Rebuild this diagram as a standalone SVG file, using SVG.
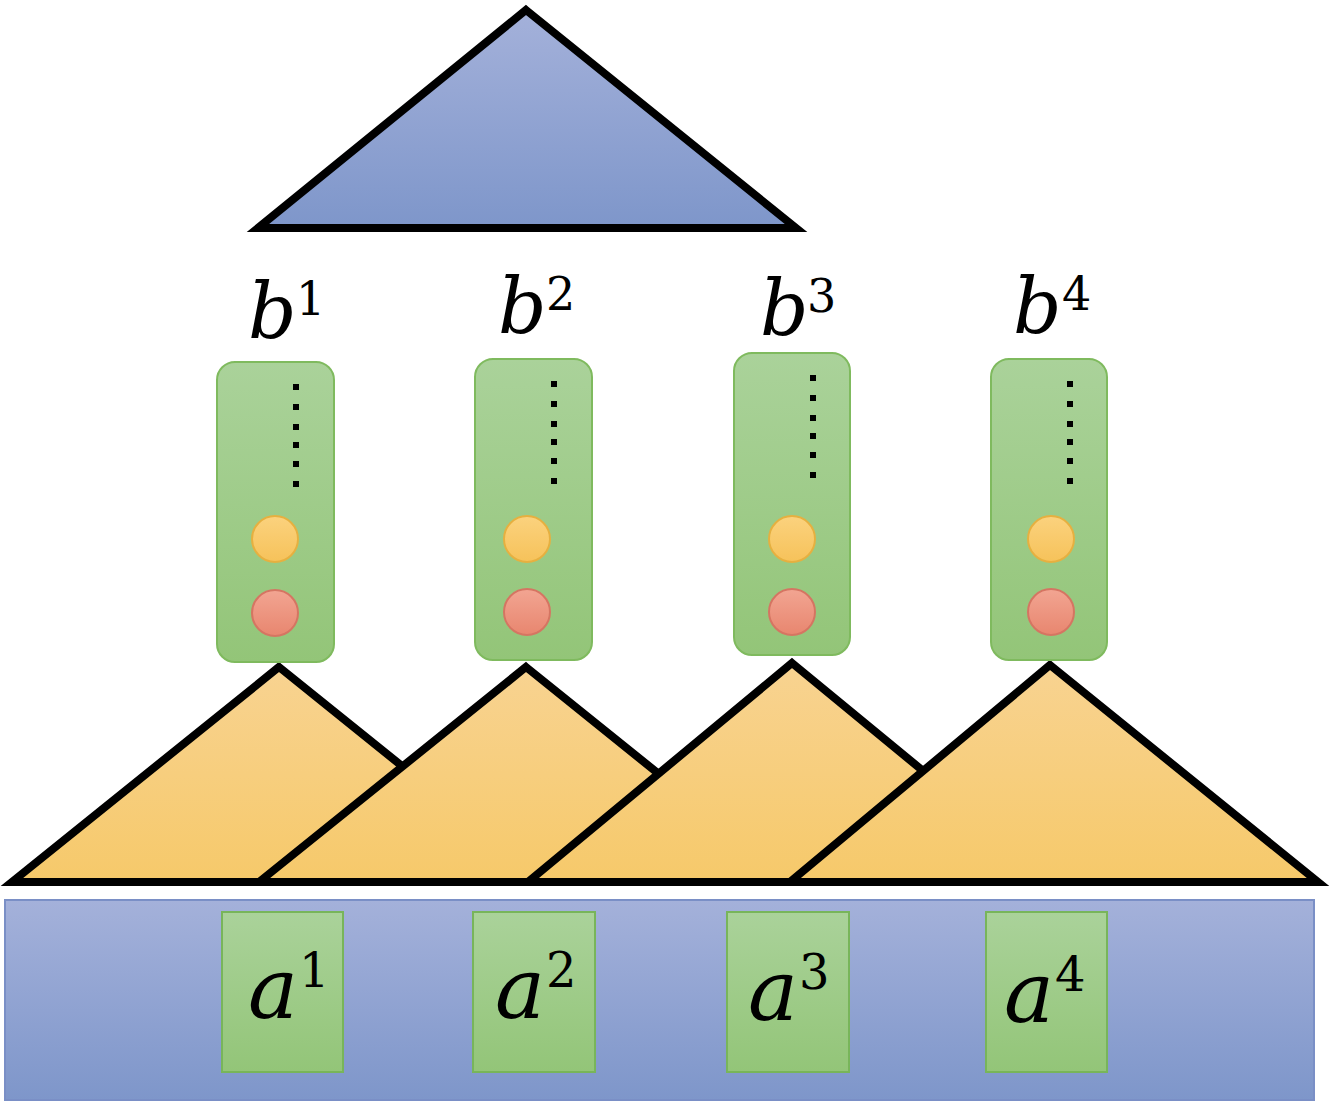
<svg xmlns="http://www.w3.org/2000/svg" width="1331" height="1103" viewBox="0 0 1331 1103">
<defs>
<linearGradient id="blue" x1="0" y1="0" x2="0" y2="1"><stop offset="0" stop-color="#a4b1da"/><stop offset="1" stop-color="#7e96ca"/></linearGradient>
<linearGradient id="green" x1="0" y1="0" x2="0" y2="1"><stop offset="0" stop-color="#aad29a"/><stop offset="1" stop-color="#93c578"/></linearGradient>
<linearGradient id="yellow" x1="0" y1="0" x2="0" y2="1"><stop offset="0" stop-color="#f8d391"/><stop offset="1" stop-color="#f6c96a"/></linearGradient>
<linearGradient id="ydot" x1="0" y1="0" x2="0" y2="1"><stop offset="0" stop-color="#fbd27e"/><stop offset="1" stop-color="#f6c25a"/></linearGradient>
<linearGradient id="rdot" x1="0" y1="0" x2="0" y2="1"><stop offset="0" stop-color="#f2a592"/><stop offset="1" stop-color="#e8866f"/></linearGradient>
</defs>
<style>
.tri{stroke:#000;stroke-width:8;stroke-linejoin:miter}
.gbox{fill:url(#green);stroke:#7fba5e;stroke-width:2}
.abox{fill:url(#green);stroke:#78b55a;stroke-width:2}
.dot{fill:#000}
.y{fill:url(#ydot);stroke:#e6b040;stroke-width:2}
.r{fill:url(#rdot);stroke:#d57562;stroke-width:2}
.var{font-family:"DejaVu Serif","Liberation Serif",serif;font-style:italic;fill:#000}
.sup{font-family:"DejaVu Serif","Liberation Serif",serif;fill:#000}
</style>
<rect width="1331" height="1103" fill="#fff"/>
<g id="top-triangle"><polygon class="tri" points="526,10 796,228 258,228" fill="url(#blue)"/></g>
<g id="input-bar"><rect x="5" y="900" width="1309" height="200" fill="url(#blue)" stroke="#7a8fc6" stroke-width="2"/></g>
<g id="yellow-triangles">
<polygon id="t1" class="tri" points="279,667 546,882 12,882" fill="url(#yellow)"/>
<polygon id="t2" class="tri" points="526,667 793,882 259,882" fill="url(#yellow)"/>
<polygon id="t3" class="tri" points="792,663 1058,882 528,882" fill="url(#yellow)"/>
<polygon id="t4" class="tri" points="1050,665 1318,882 790,882" fill="url(#yellow)"/>
</g>
<g id="b1">
<rect class="gbox" x="217" y="362" width="117" height="300" rx="18"/>
<g class="dot"><rect x="293" y="384" width="6" height="6"/><rect x="293" y="404" width="6" height="6"/><rect x="293" y="424" width="6" height="6"/><rect x="293" y="442" width="6" height="6"/><rect x="293" y="461" width="6" height="6"/><rect x="293" y="481" width="6" height="6"/></g>
<circle class="y" cx="275" cy="539" r="23"/><circle class="r" cx="275" cy="613" r="23"/>
<text class="var" x="248" y="338" font-size="76">b</text><text class="sup" x="296" y="315" font-size="46">1</text>
</g>
<g id="b2">
<rect class="gbox" x="475" y="359" width="117" height="301" rx="18"/>
<g class="dot"><rect x="551" y="381" width="6" height="6"/><rect x="551" y="401" width="6" height="6"/><rect x="551" y="421" width="6" height="6"/><rect x="551" y="439" width="6" height="6"/><rect x="551" y="458" width="6" height="6"/><rect x="551" y="478" width="6" height="6"/></g>
<circle class="y" cx="527" cy="539" r="23"/><circle class="r" cx="527" cy="612" r="23"/>
<text class="var" x="498" y="333" font-size="76">b</text><text class="sup" x="546" y="310" font-size="46">2</text>
</g>
<g id="b3">
<rect class="gbox" x="734" y="353" width="116" height="302" rx="18"/>
<g class="dot"><rect x="810" y="375" width="6" height="6"/><rect x="810" y="395" width="6" height="6"/><rect x="810" y="415" width="6" height="6"/><rect x="810" y="433" width="6" height="6"/><rect x="810" y="452" width="6" height="6"/><rect x="810" y="472" width="6" height="6"/></g>
<circle class="y" cx="792" cy="539" r="23"/><circle class="r" cx="792" cy="612" r="23"/>
<text class="var" x="760" y="335" font-size="76">b</text><text class="sup" x="807" y="312" font-size="46">3</text>
</g>
<g id="b4">
<rect class="gbox" x="991" y="359" width="116" height="301" rx="18"/>
<g class="dot"><rect x="1067" y="381" width="6" height="6"/><rect x="1067" y="401" width="6" height="6"/><rect x="1067" y="421" width="6" height="6"/><rect x="1067" y="439" width="6" height="6"/><rect x="1067" y="458" width="6" height="6"/><rect x="1067" y="478" width="6" height="6"/></g>
<circle class="y" cx="1051" cy="539" r="23"/><circle class="r" cx="1051" cy="612" r="23"/>
<text class="var" x="1013" y="333" font-size="76">b</text><text class="sup" x="1062" y="310" font-size="46">4</text>
</g>
<g id="a1"><rect class="abox" x="222" y="912" width="121" height="160"/><text class="var" x="248" y="1018" font-size="84">a</text><text class="sup" x="299" y="987" font-size="48">1</text></g>
<g id="a2"><rect class="abox" x="473" y="912" width="122" height="160"/><text class="var" x="495" y="1018" font-size="84">a</text><text class="sup" x="546" y="987" font-size="48">2</text></g>
<g id="a3"><rect class="abox" x="727" y="912" width="122" height="160"/><text class="var" x="748" y="1020" font-size="84">a</text><text class="sup" x="799" y="989" font-size="48">3</text></g>
<g id="a4"><rect class="abox" x="986" y="912" width="121" height="160"/><text class="var" x="1004" y="1022" font-size="84">a</text><text class="sup" x="1055" y="991" font-size="48">4</text></g>
<g id="connectors"></g>
</svg>
